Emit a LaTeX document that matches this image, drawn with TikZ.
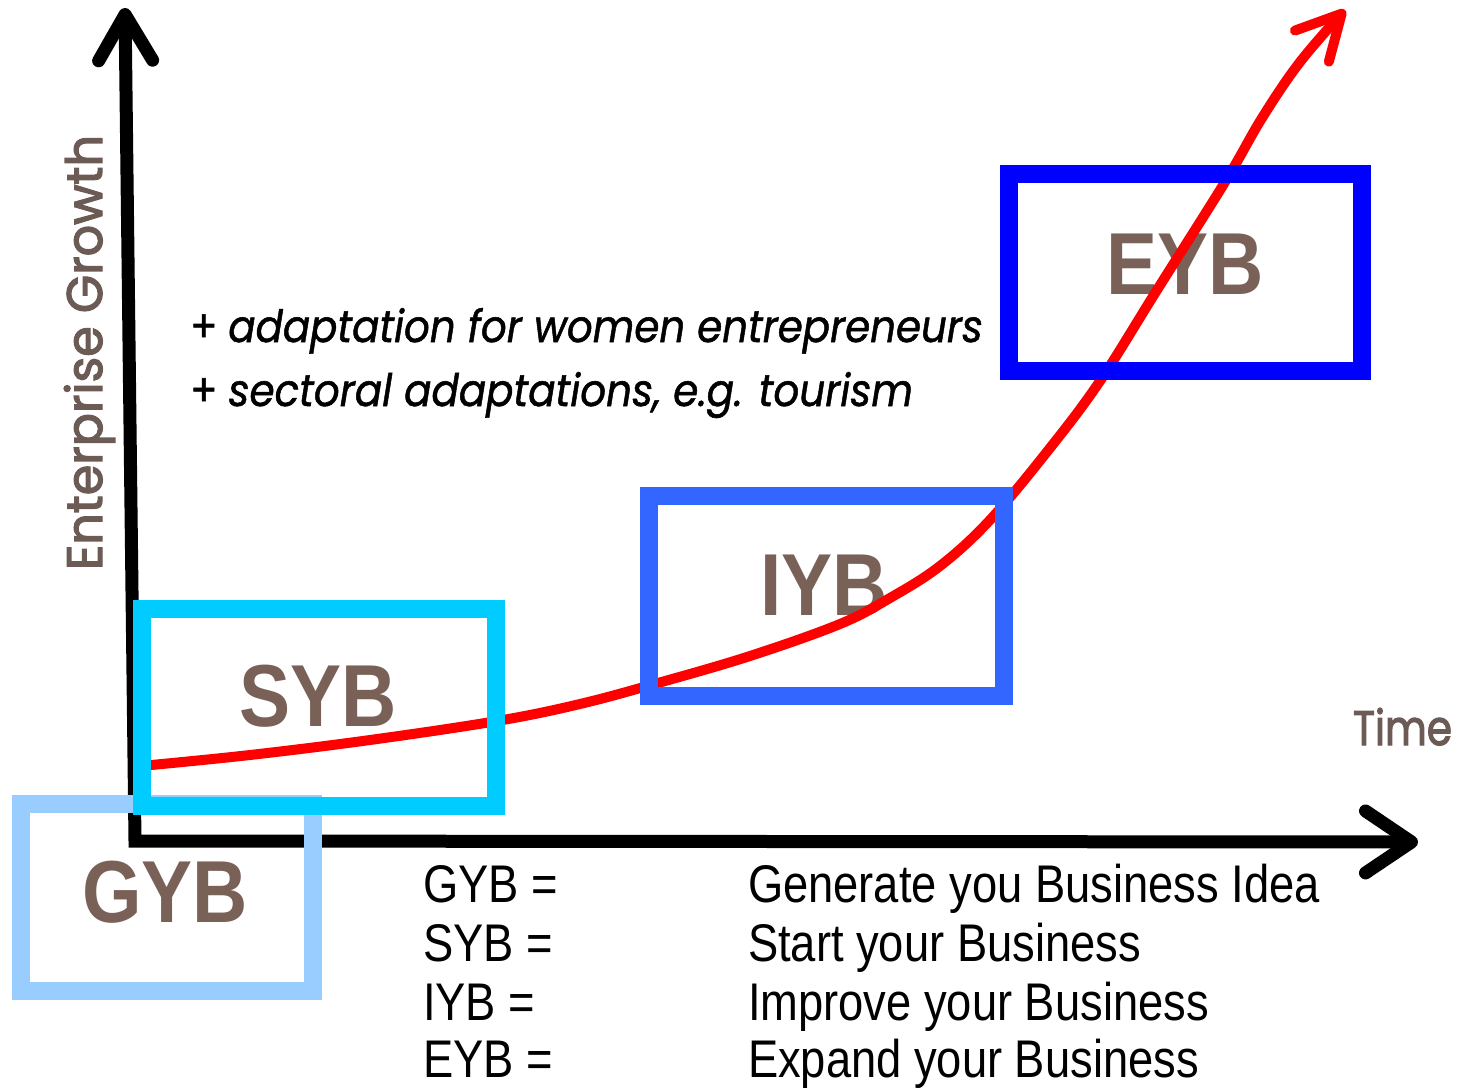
\documentclass[tikz,border=0pt]{standalone}
\usepackage{fontspec}
\usepackage{graphicx}
\setmainfont{Liberation Sans}
\newfontfamily\legendfont{Liberation Sans}[FakeStretch=0.855]
\newfontfamily\boxfont{Liberation Sans}[FakeStretch=0.87]
\newfontfamily\geofont{Poppins}[FakeBold=2.5]
\newfontfamily\notefont{Poppins}[FakeBold=1.2]
\usetikzlibrary{arrows.meta}
\definecolor{labelbrown}{RGB}{121,97,87}
\definecolor{axisbrown}{RGB}{108,90,84}
\definecolor{gybblue}{RGB}{153,204,255}
\definecolor{sybblue}{RGB}{0,204,255}
\definecolor{iybblue}{RGB}{51,102,255}
\definecolor{eybblue}{RGB}{0,0,255}
\definecolor{curvered}{RGB}{255,0,0}
\begin{document}
\begin{tikzpicture}[x=1pt,y=-1pt,
  axisline/.style={line width=13pt, black, line join=miter},
  stageframe/.style={draw, line width=18pt, inner sep=0pt, outer sep=0pt, fill=none},
  stagelabel/.style={inner sep=0pt, outer sep=0pt, text=labelbrown,
    font=\boxfont\bfseries\fontsize{88}{90}\selectfont},
  legendtext/.style={inner sep=0pt, outer sep=0pt, anchor=base west,
    font=\legendfont\fontsize{53}{60}\selectfont},
  notetext/.style={inner sep=0pt, outer sep=0pt, anchor=base west},
  axislabel/.style={inner sep=0pt, outer sep=0pt, anchor=base west, text=axisbrown},
  growth/.style={line width=10pt, curvered, line cap=round, line join=round}
]
\useasboundingbox (0,0) rectangle (1462,1089);

% axes
\coordinate (ytip) at (125,8);
\coordinate (origin) at (135,841);
\coordinate (xtip) at (1418,842);
\draw[axisline, {Straight Barb[round,length=46pt,width=54pt]}-{Straight Barb[round,length=46pt,width=62pt]}]
  (ytip) -- (origin) -- (xtip);

% axis labels
\node[axislabel, rotate=90] (ylab) at (102,570)
  {\resizebox{435pt}{38pt}{\geofont Enterprise Growth}};
\node[axislabel] (xlab) at (1353,745)
  {\resizebox{99pt}{37pt}{\geofont Time}};

% notes
\node[notetext] (note1) at (190,342)
  {\resizebox{793pt}{34pt}{\notefont + \itshape adaptation for women entrepreneurs}};
\node[notetext] (note2) at (190,406)
  {\resizebox{723pt}{34pt}{\notefont + \itshape sectoral adaptations, e.g. tourism}};

% stage labels (under the curve)
\node[stagelabel] (gybl) at (165,892) {GYB};
\node[stagelabel] (sybl) at (318,696) {SYB};
\node[stagelabel] (iybl) at (824,585) {IYB};
\node[stagelabel] (eybl) at (1185,264) {EYB};

% growth curve
\draw[growth, -{Straight Barb[round,length=44pt,width=46pt]}]
  plot[smooth, tension=0.6] coordinates {(141,766) (250,755) (370,740) (497,721) (580,704) (658,683) (750,656) (840,624) (890,598) (940,566) (990,520) (1050,448) (1100,381) (1157,290) (1225,182) (1262,118) (1300,62) (1345,10)};

% stage frames (over the curve)
\node[stageframe, draw=gybblue, minimum width=292pt, minimum height=187pt] (gyb) at (167,897.5) {};
\node[stageframe, draw=sybblue, minimum width=354pt, minimum height=197pt] (syb) at (319,707.5) {};
\node[stageframe, draw=iybblue, minimum width=355pt, minimum height=200pt] (iyb) at (826.5,596) {};
\node[stageframe, draw=eybblue, minimum width=353pt, minimum height=197pt] (eyb) at (1185.5,272.5) {};

% legend
\node[legendtext] (k1) at (423,902) {GYB =};
\node[legendtext] (k2) at (423,961) {SYB =};
\node[legendtext] (k3) at (423,1020) {IYB =};
\node[legendtext] (k4) at (423,1077) {EYB =};
\node[legendtext] (v1) at (748,902) {Generate you Business Idea};
\node[legendtext] (v2) at (748,961) {Start your Business};
\node[legendtext] (v3) at (748,1020) {Improve your Business};
\node[legendtext] (v4) at (748,1077) {Expand your Business};
\end{tikzpicture}
\end{document}
